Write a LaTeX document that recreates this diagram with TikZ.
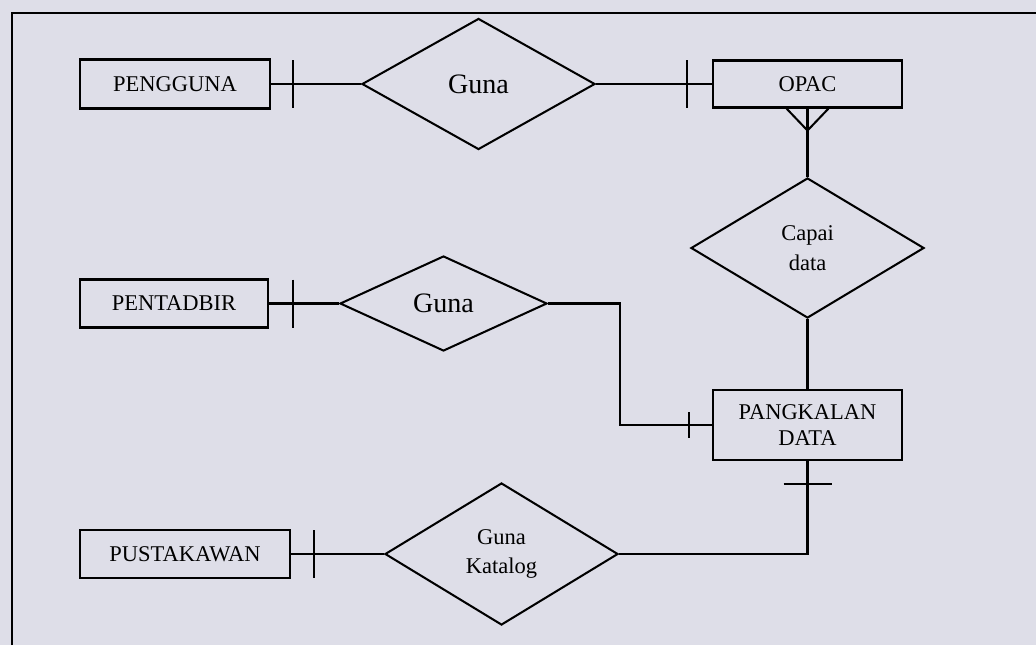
\documentclass[tikz,border=0pt]{standalone}
\usepackage{fontspec}
\setmainfont{Liberation Serif}
\usetikzlibrary{shapes.geometric}
\definecolor{paper}{RGB}{222,222,232}
\tikzset{
  entity/.style={draw, rectangle, inner sep=0pt, align=center, font=\fontsize{16}{19}\selectfont},
  relation/.style={draw, diamond, inner sep=0pt, align=center, font=\fontsize{16}{21}\selectfont},
  bigrel/.style={relation, font=\fontsize{20}{22}\selectfont},
}

\begin{document}
\begin{tikzpicture}[x=0.025cm, y=-0.025cm, line width=1.45pt]
\fill[paper] (0,0) rectangle (1036,645);
\useasboundingbox (0,0) rectangle (1036,645);
\draw (12,645) -- (12,13) -- (1036,13);
% entities
\node[entity, minimum width=4.75cm, minimum height=1.225cm] (pengguna) at (175,84) {PENGGUNA};
\node[entity, minimum width=4.725cm, minimum height=1.175cm] (opac) at (807.5,84) {OPAC};
\node[entity, minimum width=4.7cm, minimum height=1.2cm] (pentadbir) at (174,303.5) {PENTADBIR};
\node[entity, minimum width=4.725cm, minimum height=1.75cm] (pangkalan) at (807.5,425) {PANGKALAN\\DATA};
\node[entity, minimum width=5.25cm, minimum height=1.2cm] (pustakawan) at (185,554) {PUSTAKAWAN};
% relationships
\node[bigrel, minimum width=5.825cm, minimum height=3.275cm] (guna1) at (478.5,84) {Guna};
\node[relation, minimum width=5.825cm, minimum height=3.5cm] (capai) at (807.5,248) {Capai\\data};
\node[bigrel, minimum width=5.175cm, minimum height=2.375cm] (guna2) at (443.5,303.5) {Guna};
\node[relation, minimum width=5.825cm, minimum height=3.55cm] (katalog) at (501.5,554) {Guna\\Katalog};
% connectors
\draw (pengguna.east) -- (guna1.west);
\draw (guna1.east) -- (opac.west);
\draw (opac.south) -- (capai.north);
\draw (capai.south) -- (pangkalan.north);
\draw (pentadbir.east) -- (guna2.west);
\draw (guna2.east) -- ++(72,0) |- (pangkalan.west);
\draw (pangkalan.south) |- (katalog.east);
\draw (pustakawan.east) -- (katalog.west);
% cardinality marks
\draw ([shift={(22,-24)}]pengguna.east) -- ++(0,48);
\draw ([shift={(-25,-24)}]opac.west) -- ++(0,48);
\draw ([shift={(24,-24)}]pentadbir.east) -- ++(0,48);
\draw ([shift={(-23,-13)}]pangkalan.west) -- ++(0,26);
\draw ([shift={(-24,23)}]pangkalan.south) -- ++(48,0);
\draw ([shift={(23,-24)}]pustakawan.east) -- ++(0,48);
\draw ([shift={(-21,0)}]opac.south) -- ([shift={(0,22)}]opac.south) -- ([shift={(21,0)}]opac.south);
\end{tikzpicture}
\end{document}
